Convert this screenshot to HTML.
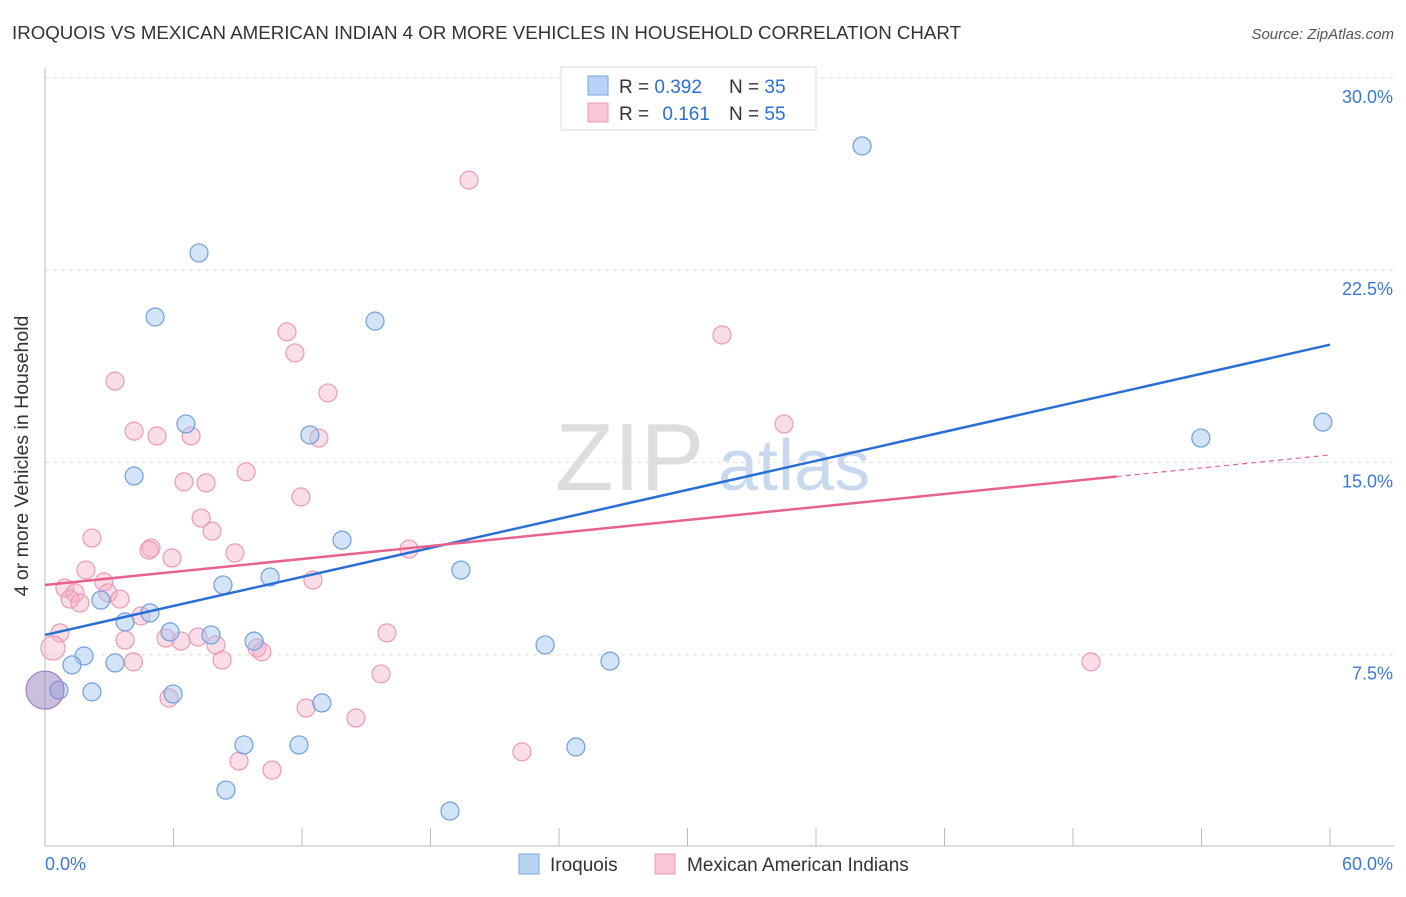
<!DOCTYPE html>
<html><head><meta charset="utf-8"><style>
body{margin:0;background:#fff;font-family:"Liberation Sans",sans-serif;}
svg text{font-family:"Liberation Sans",sans-serif;}
</style></head><body>
<svg id="c" width="1406" height="892">
<text x="12" y="39" font-size="18.6" fill="#333" textLength="949" lengthAdjust="spacingAndGlyphs">IROQUOIS VS MEXICAN AMERICAN INDIAN 4 OR MORE VEHICLES IN HOUSEHOLD CORRELATION CHART</text>
<text x="1394" y="39" font-size="15" fill="#555" font-style="italic" text-anchor="end">Source: ZipAtlas.com</text>
<text x="28" y="456" font-size="19.5" fill="#333" text-anchor="middle" transform="rotate(-90 28 456)">4 or more Vehicles in Household</text>
<g><text x="555" y="490" font-size="96" fill="#ddd" font-family="Liberation Serif">ZIP</text><text x="718" y="490" font-size="72" fill="#c8d9ef">atlas</text></g>
<g id="grid"></g><g id="axes"></g><g id="pts"></g><g id="trend"></g>
<g>
<rect x="561" y="67" width="255" height="63" fill="#fff" stroke="#ddd"/>
<rect x="588" y="76" width="20" height="19" fill="#b8d3f5" stroke="#7aa7e0"/>
<rect x="588" y="103" width="20" height="19" fill="#f9c6d5" stroke="#ec9ab4"/>
<text x="619" y="93" font-size="19" fill="#333">R = <tspan fill="#2a6fd6">0.392</tspan></text>
<text x="729" y="93" font-size="19" fill="#333">N = <tspan fill="#2a6fd6">35</tspan></text>
<text x="619" y="120" font-size="19" fill="#333">R = <tspan fill="#2a6fd6" dx="8">0.161</tspan></text>
<text x="729" y="120" font-size="19" fill="#333">N = <tspan fill="#2a6fd6">55</tspan></text>
</g>
<g>
<rect x="519" y="854" width="20" height="20" fill="#b8d3f5" stroke="#7aa7e0"/>
<text x="550" y="871" font-size="19" fill="#333">Iroquois</text>
<rect x="655" y="854" width="20" height="20" fill="#f9c6d5" stroke="#ec9ab4"/>
<text x="687" y="871" font-size="19" fill="#333">Mexican American Indians</text>
</g>
</svg>
<script>
const yTicks=[7.5,15,22.5,30];
const yTickLabels=["7.5%","15.0%","22.5%","30.0%"];
const xTicks=[0,6,12,18,24,30,36,42,48,54,60];
const xLabels=["0.0%","60.0%"];
const iroX=[38.15,7.19,5.14,15.41,6.58,12.37,4.16,13.87,19.42,8.31,10.51,2.61,4.90,3.74,5.84,7.75,9.76,23.35,1.82,1.26,3.27,26.38,0.65,2.19,5.98,12.93,9.29,11.86,24.79,8.45,18.91,53.97,59.67,0];
const iroY=[27.34,23.17,20.67,20.51,16.50,16.07,14.47,11.97,10.80,10.22,10.53,9.63,9.13,8.78,8.39,8.27,8.03,7.88,7.45,7.10,7.18,7.25,6.12,6.05,5.97,5.62,3.98,3.98,3.90,2.22,1.40,15.95,16.57,6.12];
const mexX=[19.80,31.61,11.30,11.67,3.27,13.21,34.51,4.16,5.23,6.82,12.79,9.39,6.49,7.52,11.95,7.29,7.80,2.19,4.95,4.86,8.87,5.93,17.00,1.91,12.51,2.75,0.93,1.40,2.94,1.17,3.50,1.63,4.48,0.70,15.97,3.74,5.65,7.14,6.35,7.98,9.90,10.13,0.37,4.13,8.27,48.84,15.69,5.79,12.19,14.52,22.27,9.06,10.60];
const mexY=[26.01,19.97,20.09,19.27,18.17,17.71,16.50,16.22,16.03,16.03,15.95,14.63,14.24,14.20,13.65,12.83,12.32,12.05,11.66,11.58,11.47,11.27,11.62,10.80,10.41,10.34,10.10,9.91,9.91,9.67,9.67,9.52,9.01,8.35,8.35,8.07,8.15,8.19,8.03,7.88,7.76,7.61,7.76,7.22,7.29,7.22,6.75,5.81,5.42,5.03,3.71,3.35,3.00];
const iroTrend=[8.27,19.59];
const mexTrend=[10.22,15.29];
const mexSolidEnd=50.04;
const X=v=>45+v/60*1285, Y=v=>847-v/7.5*192.3;
const NS="http://www.w3.org/2000/svg";
function mk(t,a,p){const e=document.createElementNS(NS,t);for(const k in a)e.setAttribute(k,a[k]);document.getElementById(p).appendChild(e);return e;}
let e;
yTicks.forEach((v,i)=>{
 e=mk('line',{x1:45,x2:1394,y1:Y(v),y2:Y(v),stroke:'#ddd','stroke-dasharray':'4,4'},'grid');
 
 
 e=mk('text',{x:1393,y:Y(v)+25,'font-size':18,fill:'#3a78d6','text-anchor':'end'},'axes');e.textContent=yTickLabels[i];
 
 
});
e=mk('line',{x1:45,x2:45,y1:68,y2:846,stroke:'#bbb'},'axes');


e=mk('line',{x1:45,x2:1394,y1:846,y2:846,stroke:'#bbb'},'axes');


xTicks.forEach(v=>{e=mk('line',{x1:X(v),x2:X(v),y1:828,y2:846,stroke:'#bbb'},'axes');
 
 });
e=mk('text',{x:45,y:870,'font-size':18,fill:'#3a78d6'},'axes');e.textContent=xLabels[0];


e=mk('text',{x:1393,y:870,'font-size':18,fill:'#3a78d6','text-anchor':'end'},'axes');e.textContent=xLabels[1];


mexX.forEach((v,i)=>{e=mk('circle',{cx:X(v),cy:Y(mexY[i]),r:(i==42?12:9),fill:'rgba(246,170,194,0.4)',stroke:'#ec9ab4','stroke-width':1.2},'pts');
 
 });
iroX.forEach((v,i)=>{e=mk('circle',{cx:X(v),cy:Y(iroY[i]),r:(i==33?19:9),fill:i==33?'rgba(150,130,190,0.5)':'rgba(160,196,240,0.45)',stroke:i==33?'#a080c0':'#6e9fe0','stroke-width':1.2},'pts');
 
 });
e=mk('line',{x1:X(0),y1:Y(iroTrend[0]),x2:X(60),y2:Y(iroTrend[1]),stroke:'#2a6fd6','stroke-width':2.5},'trend');


const my=x=>mexTrend[0]+(mexTrend[1]-mexTrend[0])*x/60;
e=mk('line',{x1:X(0),y1:Y(my(0)),x2:X(mexSolidEnd),y2:Y(my(mexSolidEnd)),stroke:'#e8628f','stroke-width':2.5},'trend');


e=mk('line',{x1:X(mexSolidEnd),y1:Y(my(mexSolidEnd)),x2:X(60),y2:Y(my(60)),stroke:'#e8628f','stroke-width':1.2,'stroke-dasharray':'5,4'},'trend');


</script>
</body></html>
